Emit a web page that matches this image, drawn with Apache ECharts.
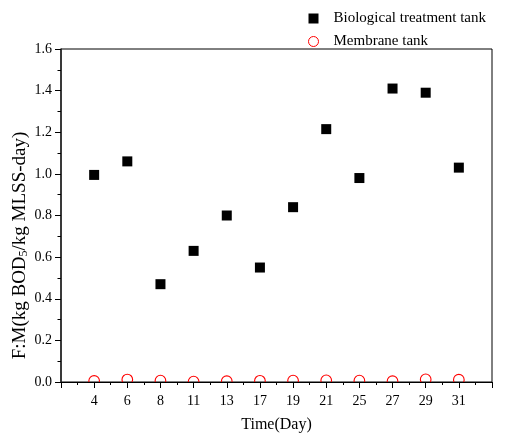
<!DOCTYPE html>
<html>
<head>
<meta charset="utf-8">
<script src="https://cdn.jsdelivr.net/npm/echarts@6/dist/echarts.min.js"></script>
<style>
  html, body { margin: 0; padding: 0; background: #fff; }
  #chart { width: 529px; height: 437px; }
</style>
</head>
<body>
<div id="chart"></div>
<script>
// sampling days (evenly spaced on the axis)
const days = ['4', '6', '8', '11', '13', '17', '19', '21', '25', '27', '29', '31']
const bioTank = [0.995, 1.06, 0.47, 0.63, 0.80, 0.55, 0.84, 1.215, 0.98, 1.41, 1.39, 1.03]
const membraneTank = [0.005, 0.012, 0.007, 0.002, 0.004, 0.006, 0.007, 0.008, 0.007, 0.004, 0.013, 0.011]
const yTicks = [0, 0.2, 0.4, 0.6, 0.8, 1.0, 1.2, 1.4, 1.6]

const font = '"Liberation Serif", "Times New Roman", serif'

const chart = echarts.init(document.getElementById('chart'), null, { renderer: 'canvas' })

// x position = 1-based slot of the day label
const bioData = bioTank.map((v, i) => [i + 1, v])
const memData = membraneTank.map((v, i) => [i + 1, v])

const option = {
  backgroundColor: '#fff',
  animation: false,
  grid: {
    left: 61,
    right: 37,
    top: 49,
    bottom: 55,
    outerBoundsMode: 'none',
    show: true,
    borderColor: '#000',
    borderWidth: 1
  },
  legend: {
    orient: 'vertical',
    left: 303,
    top: 6,
    itemWidth: 10,
    itemHeight: 10,
    itemGap: 8,
    textStyle: { fontFamily: font, fontSize: 15, color: '#000', lineHeight: 14, padding: [0, 0, 0, 10] },
    data: [
      { name: 'Biological treatment tank', icon: 'rect', itemStyle: { color: '#000' } },
      { name: 'Membrane tank', icon: 'circle', itemStyle: { color: '#fff', borderColor: '#ff0000', borderWidth: 1 } }
    ]
  },
  xAxis: {
    type: 'value',
    min: 0,
    max: days.length + 1,
    interval: 1,
    name: 'Time(Day)',
    nameLocation: 'middle',
    nameGap: 35,
    nameTextStyle: { fontFamily: font, fontSize: 16, color: '#000' },
    axisLine: { onZero: false, lineStyle: { color: '#000', width: 1.2 } },
    axisTick: { show: true, length: 6, lineStyle: { color: '#000' } },
    minorTick: { show: true, splitNumber: 2, length: 3, lineStyle: { color: '#000' } },
    splitLine: { show: false },
    axisLabel: {
      fontFamily: font,
      fontSize: 14,
      color: '#000',
      margin: 12,
      formatter: v => days[v - 1] || ''
    }
  },
  yAxis: {
    type: 'value',
    min: yTicks[0],
    max: yTicks[yTicks.length - 1],
    interval: 0.2,
    name: 'F:M(kg BOD{sub|5}/kg MLSS-day)',
    nameLocation: 'middle',
    nameRotate: 90,
    nameGap: 31,
    nameMoveOverlap: false,
    nameTextStyle: {
      fontFamily: font,
      fontSize: 19,
      color: '#000',
      padding: [0, 60, 0, 0],
      rich: {
        sub: { fontFamily: font, fontSize: 12, color: '#000', verticalAlign: 'bottom', padding: [8, 0, 0, 0] }
      }
    },
    axisLine: { lineStyle: { color: '#222', width: 1.5 } },
    axisTick: { show: true, length: 6, lineStyle: { color: '#000' } },
    minorTick: { show: true, splitNumber: 2, length: 3.5, lineStyle: { color: '#000' } },
    splitLine: { show: false },
    axisLabel: {
      fontFamily: font,
      fontSize: 14,
      color: '#000',
      margin: 9,
      formatter: v => v.toFixed(1)
    }
  },
  series: [
    {
      name: 'Biological treatment tank',
      type: 'scatter',
      symbol: 'rect',
      symbolSize: 10,
      itemStyle: { color: '#000', opacity: 1 },
      data: bioData
    },
    {
      // custom so the circles get cut off by the plot area like in the original
      name: 'Membrane tank',
      type: 'custom',
      clip: true,
      encode: { x: 0, y: 1 },
      data: memData,
      renderItem: (params, api) => {
        const p = api.coord([api.value(0), api.value(1)])
        return {
          type: 'circle',
          shape: { cx: p[0], cy: p[1], r: 5.3 },
          style: { fill: 'none', stroke: '#ff0000', lineWidth: 1.1 }
        }
      }
    }
  ]
}

chart.setOption(option)
window.addEventListener('resize', () => chart.resize())
</script>
</body>
</html>
